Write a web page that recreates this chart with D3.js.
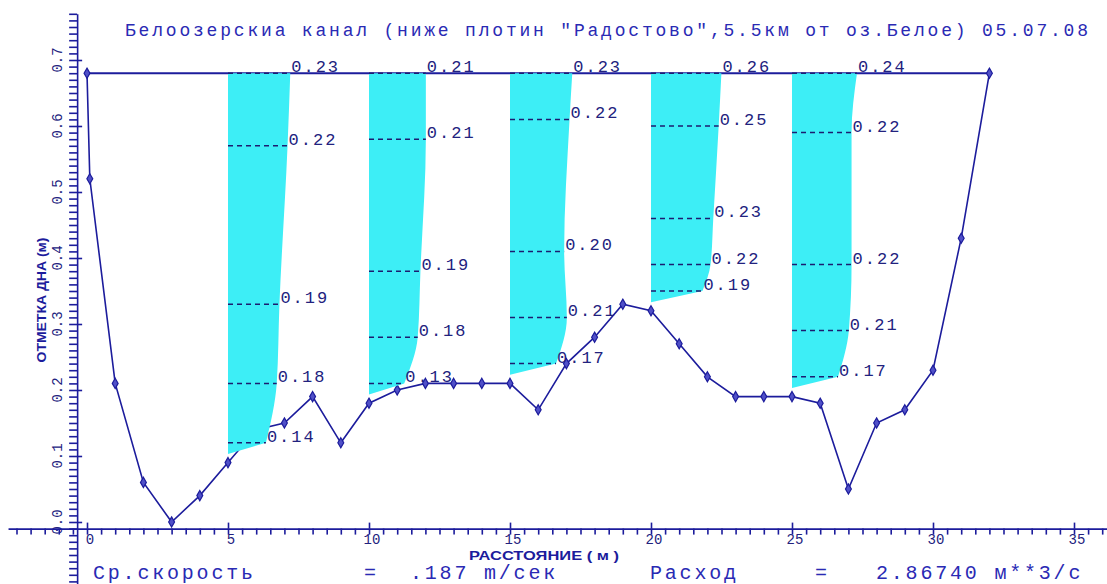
<!DOCTYPE html>
<html lang="ru">
  <head>
    <meta charset="utf-8">
    <title>Белоозерский канал</title>
    <style type="text/css">
      body{
        margin: 0;
        background-color: white;
      }svg{
        display: block;
      }.plot-text{
        font-family: "Liberation Mono", "DejaVu Sans Mono", monospace;
      }.small-cap{
        font-family: "Liberation Sans", "DejaVu Sans", sans-serif;
        font-weight: bold;
      }
    </style>
  </head>
  <body>
    <div id='svg_container'></div>

    <script src="https://d3js.org/d3.v7.min.js"></script>
    <script type="text/javascript">

      // bed profile: distance (m) and bed mark (m)
      const profileX = [0, 0.1, 1, 2, 3, 4, 5, 6, 7, 8, 9, 10, 11, 12, 13, 14, 15, 16, 17, 18, 19, 20, 21, 22, 23, 24, 25, 26, 27, 28, 29, 30, 31, 32];
      const profileY = [0.68, 0.52, 0.21, 0.06, 0.00, 0.04, 0.09, 0.14, 0.15, 0.19, 0.12, 0.18, 0.20, 0.21, 0.21, 0.21, 0.21, 0.17, 0.24, 0.28, 0.33, 0.32, 0.27, 0.22, 0.19, 0.19, 0.19, 0.18, 0.05, 0.15, 0.17, 0.23, 0.43, 0.68];

      const waterLevel = 0.68;

      // velocity verticals
      const stations = [5, 10, 15, 20, 25];
      const stationBed = [0.09, 0.18, 0.21, 0.32, 0.19];
      const depths = [
        [0.68, 0.57, 0.33, 0.21, 0.12],
        [0.68, 0.58, 0.38, 0.28, 0.21],
        [0.68, 0.61, 0.41, 0.31, 0.24],
        [0.68, 0.60, 0.46, 0.39, 0.35],
        [0.68, 0.59, 0.39, 0.29, 0.22]
      ];
      const speeds = [
        [0.23, 0.22, 0.19, 0.18, 0.14],
        [0.21, 0.21, 0.19, 0.18, 0.13],
        [0.23, 0.22, 0.20, 0.21, 0.17],
        [0.26, 0.25, 0.23, 0.22, 0.19],
        [0.24, 0.22, 0.22, 0.21, 0.17]
      ];
      const speedScale = 9.6;   // metres of distance per 1 m/s

      const xTicks = [0, 5, 10, 15, 20, 25, 30, 35];
      const yTicks = [0.0, 0.1, 0.2, 0.3, 0.4, 0.5, 0.6, 0.7];

      const titleText = 'Белоозерскиа канал (ниже плотин "Радостово",5.5км от оз.Белое) 05.07.08';

      const w = 1107;
      const h = 584;
      const navy = '#1c1c9c';
      const ink = '#22227e';
      const cyan = '#3deef6';

      const x = d3.scaleLinear().domain([0, 35]).range([87, 1074]);
      const y = d3.scaleLinear().domain([0, 0.7]).range([522, 60]);

      const svg = d3.select('#svg_container').append('svg').attr('width', w).attr('height', h);

      // axes positions
      const axisX0 = -0.35;   // y axis sits here (distance)
      const axisY0 = -0.01;   // x axis sits here (mark)

      // y axis, minor ticks every 0.01
      const yLong = y.copy().domain([-0.095, 0.77]).range([y(-0.095), y(0.77)]);
      const yMinor = d3.range(-9, 78).map(i => i / 100);
      svg.append('g').attr('transform', 'translate(' + x(axisX0) + ',0)')
        .call(d3.axisLeft(yLong).tickValues(yMinor).tickSize(8).tickSizeOuter(0).tickFormat(''))
        .call(g => g.selectAll('path,line').attr('stroke', navy).attr('stroke-width', 1.6));
      svg.append('g').attr('transform', 'translate(' + x(axisX0) + ',0)')
        .call(d3.axisRight(yLong).tickValues(yTicks).tickSize(5).tickSizeOuter(0).tickFormat(''))
        .call(g => g.select('.domain').remove())
        .call(g => g.selectAll('line').attr('stroke', navy).attr('stroke-width', 1.6));
      svg.selectAll('.ylab').data(yTicks).enter().append('text')
        .attr('class', 'plot-text')
        .attr('transform', d => 'translate(62,' + y(d) + ') rotate(-90)')
        .attr('text-anchor', 'middle')
        .style('font-size', '14px').style('fill', ink)
        .text(d => d.toFixed(1));

      // x axis, minor ticks every 0.5
      const xLong = x.copy().domain([-2.8, 36.3]).range([x(-2.8), x(36.3)]);
      const xMinor = d3.range(-5, 73).map(i => i / 2);
      svg.append('g').attr('transform', 'translate(0,' + y(axisY0) + ')')
        .call(d3.axisBottom(xLong).tickValues(xMinor).tickSize(6).tickSizeOuter(0).tickFormat(''))
        .call(g => g.selectAll('path,line').attr('stroke', navy).attr('stroke-width', 1.6));
      svg.append('g').attr('transform', 'translate(0,' + y(axisY0) + ')')
        .call(d3.axisTop(xLong).tickValues(xTicks).tickSize(6).tickSizeOuter(0).tickFormat(''))
        .call(g => g.select('.domain').remove())
        .call(g => g.selectAll('line').attr('stroke', navy).attr('stroke-width', 1.6));
      svg.selectAll('.xlab').data(xTicks).enter().append('text')
        .attr('class', 'plot-text')
        .attr('x', d => x(d) + 3).attr('y', y(axisY0) + 15)
        .attr('text-anchor', 'middle')
        .style('font-size', '14px').style('fill', ink)
        .text(d => d);

      // axis titles
      svg.append('text').attr('class', 'small-cap')
        .attr('transform', 'translate(46,300) rotate(-90)')
        .attr('text-anchor', 'middle')
        .attr('textLength', 125).attr('lengthAdjust', 'spacingAndGlyphs')
        .style('font-size', '12px').style('fill', navy)
        .text('ОТМЕТКА ДНА (м)');
      svg.append('text').attr('class', 'small-cap')
        .attr('x', 469).attr('y', 560)
        .attr('textLength', 150).attr('lengthAdjust', 'spacingAndGlyphs')
        .style('font-size', '12px').style('fill', navy)
        .text('РАССТОЯНИЕ  ( м )');

      // title
      svg.append('text').attr('class', 'plot-text')
        .attr('x', 125).attr('y', 36)
        .attr('textLength', 963).attr('lengthAdjust', 'spacing')
        .style('font-size', '18px').style('fill', '#2a2ab4')
        .text(titleText);

      // water surface
      svg.append('line')
        .attr('x1', x(profileX[0])).attr('x2', x(profileX[profileX.length - 1]))
        .attr('y1', y(waterLevel)).attr('y2', y(waterLevel))
        .attr('stroke', navy).attr('stroke-width', 2);

      // bed profile
      const profile = profileX.map((d, i) => [d, profileY[i]]);
      svg.append('path').datum(profile)
        .attr('d', d3.line().x(d => x(d[0])).y(d => y(d[1])))
        .attr('fill', 'none').attr('stroke', navy).attr('stroke-width', 1.6);
      svg.selectAll('.pt').data(profile).enter().append('path')
        .attr('transform', d => 'translate(' + x(d[0]) + ',' + y(d[1]) + ')')
        .attr('d', d3.symbol().type(d3.symbolDiamond).size(30))
        .attr('fill', '#5050c8').attr('stroke', navy).attr('stroke-width', 1.2);

      // velocity epures
      stations.forEach(function(s, i){
        var pts = depths[i].map((d, j) => [s + speeds[i][j] * speedScale, d]);
        var edge = d3.line().x(d => x(d[0])).y(d => y(d[1])).curve(d3.curveMonotoneY);
        var pathStr = 'M' + x(s) + ',' + y(waterLevel) + 'L' + edge(pts).slice(1) +
          'L' + x(s) + ',' + y(stationBed[i] + 0.013) + 'Z';
        svg.append('path').attr('d', pathStr).attr('fill', cyan).attr('stroke', 'none');

        svg.selectAll('.dash' + i).data(pts).enter().append('line')
          .attr('x1', x(s)).attr('x2', d => x(d[0]))
          .attr('y1', d => y(d[1])).attr('y2', d => y(d[1]))
          .attr('stroke', '#1c1c70').attr('stroke-width', 1.5).attr('stroke-dasharray', '5,4');

        svg.selectAll('.lab' + i).data(pts).enter().append('text')
          .attr('class', 'plot-text')
          .attr('x', d => x(d[0]) + 1).attr('y', d => y(d[1]) - 1)
          .style('font-size', '17px').style('letter-spacing', '2px').style('fill', ink)
          .text((d, j) => speeds[i][j].toFixed(2));
      });

      // summary line
      const bottomY = 579;
      [['Ср.скорость', 93], ['=', 364], ['.187 m/сек', 410], ['Расход', 650], ['=', 815], ['2.86740 м**3/с', 876]]
        .forEach(function(t){
          svg.append('text').attr('class', 'plot-text')
            .attr('x', t[1]).attr('y', bottomY)
            .style('font-size', '20px').style('letter-spacing', '2.8px').style('fill', '#2a2ab4')
            .text(t[0]);
        });

    </script>
  </body>
</html>
